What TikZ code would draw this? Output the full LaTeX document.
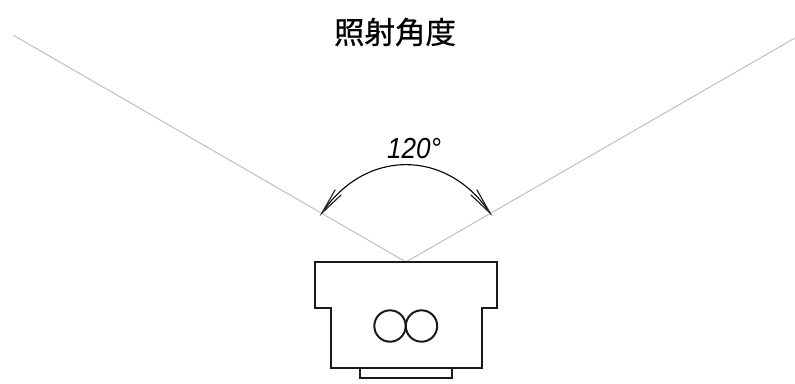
\documentclass[tikz,border=0pt]{standalone}
\usepackage{fontspec}
\setmainfont{Liberation Sans}
\newfontfamily\cjk[BoldFont={Noto Sans CJK JP},BoldFeatures={FakeBold=0.6}]{Noto Sans CJK JP}
\tikzset{
  guide/.style={draw=black!25,line width=1pt},
  body/.style={draw=black!90,line width=1.7pt,line join=miter},
  dim/.style={draw=black,line width=1.1pt},
  barb/.style={draw=black!85,line width=1.2pt,line cap=round},
}
\begin{document}
\begin{tikzpicture}[x=1pt,y=-1pt]
\useasboundingbox (0,0) rectangle (795,383);
\coordinate (apex) at (406,262);
\coordinate (endL) at (13,35);
\coordinate (endR) at (795,38);
\draw[guide] (endL) -- (apex) -- (endR);
\draw[body] (315,262) -- (497,262) -- (497,308) -- (482,308) -- (482,368) -- (331,368) -- (331,308) -- (315,308) -- cycle;
\draw[body] (360,368) -- (360,378) -- (452,378) -- (452,368);
\draw[body,line width=2pt] (390,326) circle[radius=15.7];
\draw[body,line width=2pt] (421.5,326) circle[radius=15.7];
\coordinate (tipL) at (322,213);
\coordinate (tipR) at (490,213);
\draw[dim] (tipL) .. controls (365,148.5) and (447,148.5) .. (tipR);
\draw[barb] (335,190) -- (tipL) -- (341,195);
\draw[barb] (477,190) -- (tipR) -- (471,195);
\node[inner sep=0pt,xscale=0.9,font=\fontsize{29}{29}\selectfont\itshape] (angle) at (414,148.5) {120°};
\node[inner sep=0pt,font=\cjk\bfseries\fontsize{30.5}{30.5}\selectfont] (title) at (395,32) {照射角度};
\end{tikzpicture}
\end{document}
